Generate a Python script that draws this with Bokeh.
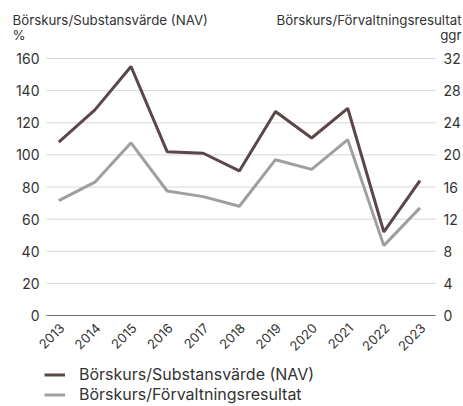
import math
from bokeh.plotting import figure
from bokeh.models import Range1d, Label, Legend, LegendItem
from bokeh.core.properties import value
from bokeh.embed import file_html
from bokeh.resources import INLINE

# ---- data ----
years = [2013, 2014, 2015, 2016, 2017, 2018, 2019, 2020, 2021, 2022, 2023]
nav_pct = [108, 128, 155, 102, 101, 90, 127, 110.5, 129, 52, 84]
pe_ggr = [14.3, 16.6, 21.5, 15.5, 14.8, 13.6, 19.4, 18.2, 21.9, 8.7, 13.4]
left_ticks = [0, 20, 40, 60, 80, 100, 120, 140, 160]
right_ticks = [0, 4, 8, 12, 16, 20, 24, 28, 32]
year_labels = [str(y) for y in years]
nav_label = "Börskurs/Substansvärde (NAV)"
pe_label = "Börskurs/Förvaltningsresultat"
left_unit = "%"
right_unit = "ggr"

FONT = "Inter"
TXT = "#333333"
BROWN = "#5b4747"
GREY = "#9f9f9f"
GRID = "#d6d6dc"
BASE = "#6b6b6b"

# ---- layout (pixels) ----
W, H = 463, 406
AL, AR, AT, AB = 46, 435, 58, 315           # plot area edges on the canvas
X_LO, X_HI = 2012.66, 2023.43               # x domain of the plot area
Y_LO, Y_HI = left_ticks[0], left_ticks[-1]  # left y domain of the plot area
RATIO = right_ticks[-1] / left_ticks[-1]    # right scale / left scale

ppx = (AR - AL) / (X_HI - X_LO)
ppy = (AB - AT) / (Y_HI - Y_LO)
x_range = Range1d(X_LO - AL / ppx, X_HI + (W - AR) / ppx)
y0, y1 = Y_LO - (H - AB) / ppy, Y_HI + AT / ppy
y_range = Range1d(y0, y1)

p = figure(width=W, height=H, x_range=x_range, y_range=y_range,
           x_axis_type=None, y_axis_type=None,
           output_backend="svg", toolbar_location=None, min_border=0)
p.extra_y_ranges = {"ggr": Range1d(y0 * RATIO, y1 * RATIO)}
p.outline_line_color = None
p.grid.visible = False
p.title.visible = False

# grid lines and base line
grid_vals = [t for t in left_ticks if t != 0]
p.segment(x0=X_LO, x1=X_HI, y0=grid_vals, y1=grid_vals, line_color=GRID, line_width=1)
p.segment(x0=X_LO, x1=X_HI, y0=Y_LO, y1=Y_LO, line_color=BASE, line_width=1)

# tick labels
p.text(x=X_LO, y=left_ticks, text=[str(t) for t in left_ticks], x_offset=-7,
       text_align="right", text_baseline="middle", text_font=value(FONT),
       text_font_size="14px", text_color=TXT)
p.text(x=X_HI, y=right_ticks, y_range_name="ggr", text=[str(t) for t in right_ticks],
       x_offset=8, text_align="left", text_baseline="middle", text_font=value(FONT),
       text_font_size="14px", text_color=TXT)
p.text(x=years, y=Y_LO, text=year_labels, angle=math.pi / 4, x_offset=3, y_offset=10,
       text_align="right", text_baseline="middle", text_font=value(FONT),
       text_font_size="13px", text_color=TXT)

# data lines
r_pe = p.line(years, pe_ggr, y_range_name="ggr", line_color=GREY, line_width=3)
r_nav = p.line(years, nav_pct, line_color=BROWN, line_width=3)

legend = Legend(items=[LegendItem(label=nav_label, renderers=[r_nav]),
                       LegendItem(label=pe_label, renderers=[r_pe])],
                location=(44, 2), orientation="vertical",
                glyph_width=21, glyph_height=17, label_height=17,
                spacing=0, padding=0, margin=0, label_standoff=14,
                background_fill_alpha=0, border_line_color=None,
                label_text_font=FONT, label_text_font_size="16px",
                label_text_color=TXT)
p.add_layout(legend, "center")

for txt, x, y, align in [(nav_label, 12, H - 19, "left"), (left_unit, 12, H - 34, "left"),
                         (pe_label, 461, H - 19, "right"), (right_unit, 461, H - 34, "right")]:
    p.add_layout(Label(x=x, y=y, x_units="screen", y_units="screen", text=txt,
                       text_align=align, text_baseline="middle",
                       text_font=FONT, text_font_size="13.3px", text_color=TXT))

open("out.html", "w").write(file_html(p, INLINE))
